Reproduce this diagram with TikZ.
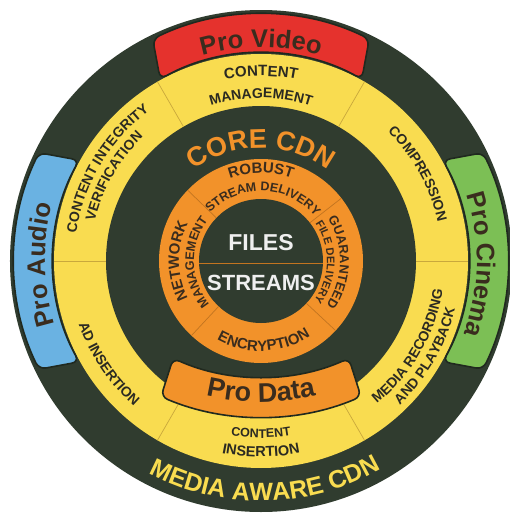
\documentclass[tikz,border=0pt]{standalone}
\usepackage{fontspec}
\setmainfont{Liberation Sans}
\usepackage{tikz}
\usetikzlibrary{decorations.text}
\definecolor{dgreen}{HTML}{303C2F}
\definecolor{ringyel}{HTML}{F9DC50}
\definecolor{coreor}{HTML}{F2922A}
\definecolor{video}{HTML}{E5322D}
\definecolor{audio}{HTML}{6AB2E2}
\definecolor{cinema}{HTML}{7CBF55}
\definecolor{ink}{HTML}{2B2A22}
\definecolor{darkink}{HTML}{3A2C1E}
\definecolor{rimline}{HTML}{20291F}
\definecolor{ydivc}{HTML}{C9A83C}
\definecolor{odivc}{HTML}{C27420}
\definecolor{pale}{HTML}{EFEFEF}
\tikzset{
  protab/.style={draw=rimline, line width=1.6, rounded corners=7},
  ydiv/.style={draw=ydivc, line width=0.7},
  odiv/.style={draw=odivc, line width=0.7},
  big/.style={text=pale, anchor=base, font=\bfseries\fontsize{#1}{#1}\selectfont},
}
\newcommand{\arclab}[6]{%
  \path[decorate,decoration={text along path,text align=center,text color=#1,
    text={|\bfseries\fontsize{#2}{#2}\selectfont|#6}}]
    (#4:#3) arc[start angle=#4,end angle=#5,radius=#3];}

\begin{document}
\begin{tikzpicture}[x=1pt,y=1pt]
  \useasboundingbox (-261,-254) rectangle (249,261);
  \fill[white] (-261,-254) rectangle (249,261);
  \fill[dgreen] (0,0) circle[radius=251];
  \fill[ringyel] (0,0) circle[radius=207];
  \fill[dgreen] (0,0) circle[radius=155];
  \fill[coreor] (0,0) circle[radius=102];
  \fill[dgreen] (0,0) circle[radius=62];
  \foreach \a in {0,60,...,300} \draw[ydiv] (\a:155) -- (\a:207);
  \foreach \a in {38,136,227,317} \draw[odiv] (\a:62) -- (\a:102);
  \coordinate (mid l) at (-62,-2);
  \coordinate (mid r) at (62,-2);
  \draw[odiv] (mid l) -- (mid r);
  \foreach \a/\c in {90/video,180/audio,0/cinema}
    \draw[protab,fill=\c] (\a-29:208) arc[start angle=\a-29,end angle=\a+29,radius=208]
      -- (\a+26:247) arc[start angle=\a+26,end angle=\a-26,radius=247] -- cycle;
  \draw[protab,fill=coreor,shift={(0,100)}] (246:216) arc[start angle=246,end angle=294,radius=216]
    -- (293:256) arc[start angle=293,end angle=247,radius=256] -- cycle;

  \arclab{ink}{15}{185}{120}{60}{CONTENT}
  \arclab{ink}{14}{163}{122}{58}{MANAGEMENT}
  \arclab{ink}{14}{181}{59}{-1}{COMPRESSION}
  \arclab{ink}{14}{187}{179}{119}{CONTENT INTEGRITY}
  \arclab{ink}{14}{171}{180}{120}{VERIFICATION}
  \arclab{ink}{14}{193}{184}{244}{AD INSERTION}
  \arclab{ink}{12.5}{177}{245}{295}{CONTENT}
  \arclab{ink}{14.5}{196}{240}{300}{INSERTION}
  \arclab{ink}{14}{184}{300}{360}{MEDIA RECORDING}
  \arclab{ink}{14}{200}{305}{355}{AND PLAYBACK}

  \arclab{darkink}{15}{88}{135}{45}{ROBUST}
  \arclab{darkink}{12.5}{70}{140}{36}{STREAM DELIVERY}
  \arclab{darkink}{13}{79}{36}{-38}{GUARANTEED}
  \arclab{darkink}{11}{66}{37}{-39}{FILE DELIVERY}
  \arclab{darkink}{15}{82}{226}{134}{NETWORK}
  \arclab{darkink}{12.5}{67}{227}{135}{MANAGEMENT}
  \arclab{darkink}{15}{90}{230}{314}{ENCRYPTION}

  \arclab{coreor}{27}{113}{135}{45}{CORE CDN}
  \arclab{ringyel}{25}{240}{236}{306}{MEDIA AWARE CDN}
  \arclab{darkink}{25.5}{214}{125}{55}{Pro Video}
  \arclab{darkink}{25.5}{216}{211}{151}{Pro Audio}
  \arclab{darkink}{25.5}{216}{29}{-31}{Pro Cinema}
  \begin{scope}[shift={(0,100)}]
    \arclab{darkink}{27}{241}{245}{295}{Pro Data}
  \end{scope}

  \node[big=23] (files) at (0,11) {FILES};
  \node[big=22] (streams) at (0,-29) {STREAMS};
\end{tikzpicture}
\end{document}
